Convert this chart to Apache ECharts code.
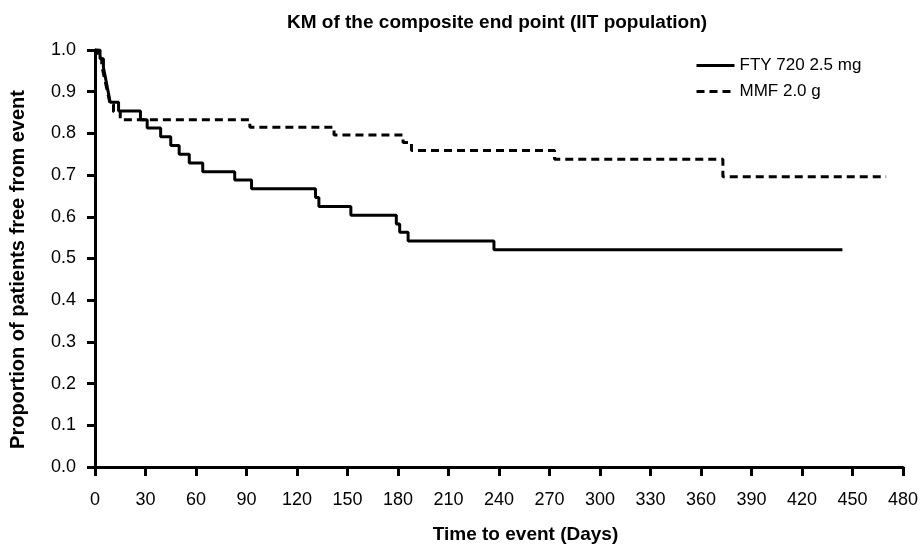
<!DOCTYPE html>
<html>
<head>
<meta charset="utf-8">
<script src="https://cdn.jsdelivr.net/npm/echarts@6/dist/echarts.min.js"></script>
<style>
  html, body { margin: 0; padding: 0; background: #fff; }
  #main { width: 924px; height: 554px; }
</style>
</head>
<body>
<div id="main"></div>
<script>
var myChart = echarts.init(document.getElementById('main'));

// Kaplan-Meier steps: day of event, survival after it
var ftyDays = [0, 3, 5, 6, 7, 8, 9, 14, 27, 31, 39, 45, 50, 56, 64, 83, 93, 131, 133, 152, 179, 181, 186, 237, 444];
var ftySurv = [1.0, 0.979, 0.958, 0.938, 0.917, 0.896, 0.875, 0.854, 0.833, 0.813, 0.792, 0.771, 0.750, 0.729, 0.708, 0.688, 0.667, 0.646, 0.625, 0.604, 0.583, 0.563, 0.542, 0.521, 0.521];

var mmfDays = [0, 2, 4, 5, 6, 7, 8, 9, 11, 15, 92, 142, 183, 188, 273, 373, 470];
var mmfSurv = [1.0, 0.981, 0.963, 0.944, 0.926, 0.907, 0.889, 0.870, 0.852, 0.833, 0.815, 0.796, 0.778, 0.759, 0.738, 0.696, 0.696];

var seriesNames = ['FTY 720 2.5 mg', 'MMF 2.0 g'];

var pair = (xs, ys) => xs.map((x, i) => [x, ys[i]]);

var font = 'Liberation Sans, Arial, sans-serif';

var option = {
    animation: false,
    title: {
        text: 'KM of the composite end point (IIT population)',
        left: 282,
        top: 8,
        textStyle: { fontFamily: font, fontSize: 19, fontWeight: 'bold', color: '#000' }
    },
    legend: {
        orient: 'vertical',
        left: 690,
        top: 52,
        itemWidth: 38,
        itemHeight: 14,
        itemGap: 9,
        data: seriesNames,
        itemStyle: { color: 'transparent', borderWidth: 0 },
        lineStyle: { width: 3 },
        textStyle: { fontFamily: font, fontSize: 17, color: '#000' }
    },
    grid: { left: 95, right: 21, top: 50, bottom: 87 },
    xAxis: {
        type: 'value',
        min: 0,
        max: 480,
        interval: 30,
        offset: 6,
        name: 'Time to event (Days)',
        nameLocation: 'middle',
        nameGap: 52,
        nameTextStyle: { fontFamily: font, fontSize: 19, fontWeight: 'bold', color: '#000', padding: [0, 0, 0, 53] },
        axisLine: { lineStyle: { color: '#000', width: 3 } },
        axisTick: { length: 9, lineStyle: { width: 3 } },
        axisLabel: { margin: 18, fontFamily: font, fontSize: 18, color: '#000' },
        splitLine: { show: false }
    },
    yAxis: {
        type: 'value',
        min: 0,
        max: 1,
        interval: 0.1,
        offset: 3,
        name: 'Proportion of patients free from event',
        nameLocation: 'middle',
        nameGap: 64,
        nameTextStyle: { fontFamily: font, fontSize: 20, fontWeight: 'bold', color: '#000', padding: [0, 22, 0, 0] },
        axisLine: { show: true, lineStyle: { color: '#000', width: 3 } },
        axisTick: { show: true, length: 8, lineStyle: { width: 3 } },
        axisLabel: { margin: 16, fontFamily: font, fontSize: 18, color: '#000', formatter: v => v.toFixed(1) },
        splitLine: { show: false }
    },
    series: [{
        name: seriesNames[0],
        type: 'line',
        step: 'end',
        symbol: 'none',
        data: pair(ftyDays, ftySurv),
        lineStyle: { color: '#000', width: 3, type: 'solid' },
        itemStyle: { color: '#000' }
    }, {
        name: seriesNames[1],
        type: 'line',
        step: 'end',
        symbol: 'none',
        data: pair(mmfDays, mmfSurv),
        lineStyle: { color: '#000', width: 3, type: [8, 5] },
        itemStyle: { color: '#000' }
    }]
};

myChart.setOption(option);
</script>
</body>
</html>
